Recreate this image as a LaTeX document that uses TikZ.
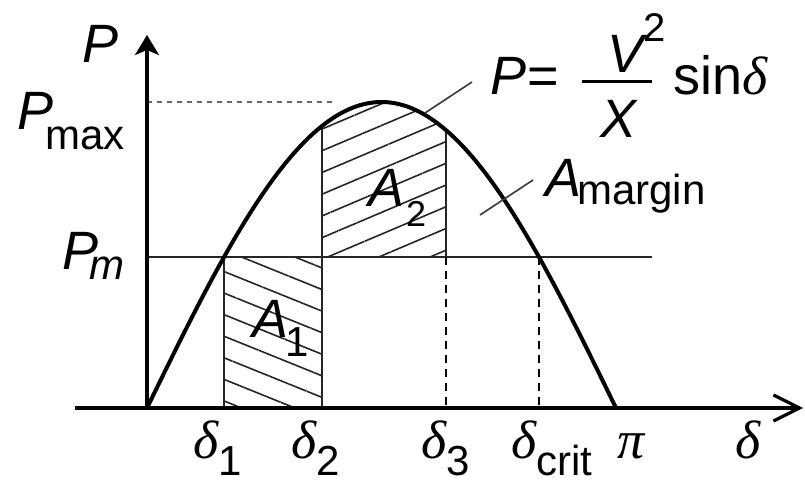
\documentclass[tikz,border=0pt]{standalone}
\usepackage{fontspec}
\setmainfont{Liberation Sans}
\newfontfamily\grkfont{Liberation Serif}
\usetikzlibrary{arrows.meta,patterns.meta}
\newcommand\mainsz{\fontsize{54bp}{60bp}\selectfont}
\newcommand\subsz{\fontsize{42bp}{48bp}\selectfont}
\newcommand\gd{{\grkfont\itshape δ}}
\begin{document}
\begin{tikzpicture}[x=1bp,y=-1bp,
  lbl/.style={inner sep=0pt, anchor=base west, font=\mainsz},
  curveline/.style={line width=4bp, black},
  guide/.style={line width=2bp, black!85},
  vdash/.style={line width=2.4bp, black, dash pattern=on 8bp off 6bp},
  leader/.style={line width=1.7bp, black!75},
  hatchdown/.style={pattern={Lines[angle=-22,distance=20bp,line width=1.6bp]}, pattern color=black!85},
  hatchup/.style={pattern={Lines[angle=23,distance=20bp,line width=1.6bp]}, pattern color=black!85}
]
\path[use as bounding box] (0,0) rectangle (805,483);
% key coordinates
\coordinate (O) at (147,408);
\coordinate (xstart) at (75,408);
\coordinate (xend) at (803,408);
\coordinate (ytip) at (147,35);
\coordinate (d1top) at (224,257);
\coordinate (d1bot) at (224,408);
\coordinate (d2top) at (322,126);
\coordinate (d2bot) at (322,408);
\coordinate (d2m) at (322,257);
\coordinate (d3top) at (446,130.2);
\coordinate (d3m) at (446,257);
\coordinate (d3bot) at (446,408);
\coordinate (dctop) at (539,257);
\coordinate (dcbot) at (539,408);
\coordinate (pmL) at (147,257);
\coordinate (pmR) at (652,257);
\coordinate (pmaxL) at (147,102);
\coordinate (pmaxR) at (333,102);
% hatched areas
\fill[hatchdown] (d1top) rectangle (d2bot);
\fill[hatchup] (d2m) -- (d2top) -- plot[domain=67.16:114.76,samples=40] ({147+2.60556*\x},{408-306*sin(\x)}) -- (d3m) -- cycle;
% guide lines
\draw[dash pattern=on 5bp off 5bp, line width=1.6bp, black!60] (pmaxL) -- (pmaxR);
\draw[guide] (pmL) -- (pmR);
\draw[guide] (d1top) -- (d1bot);
\draw[guide, line width=2.6bp] (d2top) -- (d2bot);
\draw[guide, line width=2.6bp] (d3top) -- (d3m);
\draw[vdash] (d3m) -- (d3bot);
\draw[vdash] (dctop) -- (dcbot);
% axes
\draw[line width=3.6bp, -{Straight Barb[length=26bp,width=26bp,line width=3.2bp]}] (xstart) -- (xend);
\draw[line width=3.8bp, -{Stealth[length=20bp,width=24bp,inset=5bp]}] (O) -- (ytip);
% curve
\draw[curveline] plot[domain=0:180,samples=120] ({147+2.60556*\x},{408-306*sin(\x)});
% leader lines
\coordinate (fl1) at (425,113);
\coordinate (fl2) at (472,82);
\coordinate (ml1) at (480,215);
\coordinate (ml2) at (533,180);
\draw[leader] (fl1) -- (fl2);
\draw[leader] (ml1) -- (ml2);
% labels
\node[lbl] (lblP) at (82,63) {\itshape P};
\node[lbl] (lblPmax) at (17,130) {{\itshape P}\kern-8bp\raisebox{-20bp}{\subsz max}};
\node[lbl] (lblPm) at (62,270) {{\itshape P}\kern-9bp\raisebox{-10bp}{\subsz\itshape m}};
\node[lbl] (lblA1) at (252,337) {{\itshape A}\kern-3bp\raisebox{-19bp}{\subsz 1}};
\node[lbl] (lblA2) at (368,207) {{\itshape A}\kern2bp\raisebox{-20bp}{\fontsize{36bp}{40bp}\selectfont 2}};
\node[lbl] (lblAm) at (545,197) {{\itshape A}\kern-4bp\raisebox{-8bp}{\subsz margin}};
% formula
\node[lbl] (fP) at (490,95) {{\itshape P}\kern1bp=};
\node[lbl] (fV) at (607,73) {{\itshape V}\raisebox{31bp}{\fontsize{40bp}{44bp}\selectfont 2}};
\node[lbl] (fX) at (600,138) {\itshape X};
\coordinate (fb1) at (582,82);
\coordinate (fb2) at (652,82);
\draw[line width=3bp] (fb1) -- (fb2);
\node[lbl] (fsin) at (673,95) {sin\gd};
% delta labels
\node[lbl] (lbld1) at (193,458) {\gd\raisebox{-17bp}{\subsz 1}};
\node[lbl] (lbld2) at (291,458) {\gd\raisebox{-17bp}{\subsz 2}};
\node[lbl] (lbld3) at (421,458) {\gd\raisebox{-17bp}{\subsz 3}};
\node[lbl] (lbldc) at (511,458) {\gd\raisebox{-17bp}{\subsz crit}};
\node[lbl] (lblpi) at (617,458) {{\grkfont\itshape π}};
\node[lbl] (lbldel) at (735,458) {\gd};
\end{tikzpicture}
\end{document}
